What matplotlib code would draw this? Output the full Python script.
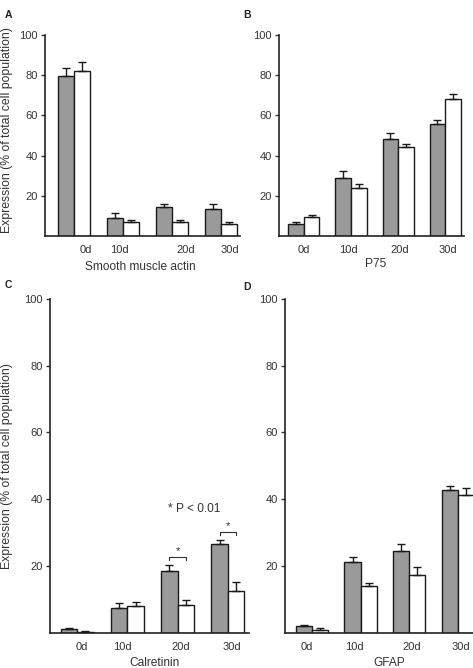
import matplotlib
matplotlib.use("Agg")
import matplotlib.pyplot as plt
import numpy as np

plt.rcParams['font.family'] = ['Liberation Sans', 'DejaVu Sans']
plt.rcParams['font.size'] = 8
plt.rcParams['text.color'] = '#333333'
plt.rcParams['axes.labelcolor'] = '#333333'
plt.rcParams['xtick.color'] = '#333333'
plt.rcParams['ytick.color'] = '#333333'

days = ["0d", "10d", "20d", "30d"]

# mean expression (% of total cell population) and upper error
sma_gray = [79.6, 8.8, 14.4, 13.6]
sma_gray_err = [3.8, 2.5, 1.6, 2.2]
sma_white = [82.0, 6.8, 7.1, 5.8]
sma_white_err = [4.6, 1.0, 0.7, 1.2]

p75_gray = [5.8, 29.0, 48.2, 55.6]
p75_gray_err = [1.2, 3.3, 3.0, 2.3]
p75_white = [9.3, 23.7, 44.1, 68.3]
p75_white_err = [1.1, 2.3, 1.7, 2.3]

calr_gray = [1.0, 7.3, 18.5, 26.5]
calr_gray_err = [0.3, 1.5, 1.9, 1.3]
calr_white = [0.3, 7.9, 8.2, 12.5]
calr_white_err = [0.1, 1.4, 1.6, 2.8]

gfap_gray = [2.0, 21.3, 24.4, 42.8]
gfap_gray_err = [0.4, 1.3, 2.1, 1.3]
gfap_white = [0.8, 14.0, 17.3, 41.4]
gfap_white_err = [0.5, 1.0, 2.4, 2.0]

W, H = 473, 668
fig = plt.figure(figsize=(W / 100, H / 100), dpi=100)


def px_axes(left, top, right, bottom):
    return fig.add_axes([left / W, 1 - bottom / H, (right - left) / W, (bottom - top) / H])


def panel(ax, gray, gray_err, white, white_err, xlim, label_shift, xlabel, xlabel_pos):
    x = np.arange(len(days))
    bw = 0.33
    ax.bar(x - bw / 2, gray, bw, color='#9a9a9a', edgecolor='#1a1a1a', linewidth=1.0, zorder=2)
    ax.bar(x + bw / 2, white, bw, color='white', edgecolor='#1a1a1a', linewidth=1.0, zorder=2)
    ax.errorbar(x - bw / 2, gray, yerr=[np.zeros(4), gray_err], fmt='none',
                ecolor='#1a1a1a', elinewidth=1.0, capsize=3, capthick=1.0, zorder=3)
    ax.errorbar(x + bw / 2, white, yerr=[np.zeros(4), white_err], fmt='none',
                ecolor='#1a1a1a', elinewidth=1.0, capsize=3, capthick=1.0, zorder=3)
    ax.set_xlim(*xlim)
    ax.set_ylim(0, 100)
    ax.set_yticks([20, 40, 60, 80, 100])
    ax.set_xticks(x + np.array(label_shift))
    ax.set_xticklabels(days)
    ax.tick_params(axis='x', length=0, pad=6.5)
    ax.tick_params(axis='y', direction='out', length=3, width=1, pad=2)
    for s in ['top', 'right']:
        ax.spines[s].set_visible(False)
    for s in ['left', 'bottom']:
        ax.spines[s].set_linewidth(1.2)
        ax.spines[s].set_color('#222222')
    ax.set_xlabel(xlabel, fontsize=8.6)
    ax.xaxis.set_label_coords(*xlabel_pos)


axA = px_axes(45, 35, 240, 236)
panel(axA, sma_gray, sma_gray_err, sma_white, sma_white_err, (-0.59, 3.39),
      [0.24, -0.08, 0.29, 0.18], "Smooth muscle actin", (0.487, -0.124))

axB = px_axes(279, 35, 464, 236)
panel(axB, p75_gray, p75_gray_err, p75_white, p75_white_err, (-0.53, 3.40),
      [0.0, -0.05, 0.04, 0.06], "P75", (0.524, -0.109))

axC = px_axes(50, 299, 249, 632.7)
panel(axC, calr_gray, calr_gray_err, calr_white, calr_white_err, (-0.54, 3.42),
      [0.09, -0.1, 0.07, 0.08], "Calretinin", (0.523, -0.072))

axD = px_axes(285, 299, 480, 632.7)
panel(axD, gfap_gray, gfap_gray_err, gfap_white, gfap_white_err, (-0.55, 3.45),
      [-0.1, -0.12, 0.05, 0.06], "GFAP", (0.533, -0.072))

ylab = "Expression (% of total cell population)"
axA.set_ylabel(ylab, fontsize=8.8)
axA.yaxis.set_label_coords(-0.164, 0.527)
axC.set_ylabel(ylab, fontsize=8.8)
axC.yaxis.set_label_coords(-0.186, 0.50)

# significance brackets on Calretinin
def bracket(ax, i, y, bw=0.33):
    x0, x1 = i - bw / 2, i + bw / 2
    ax.plot([x0, x0, x1, x1], [y - 0.9, y, y, y - 0.9], color='#333333', lw=0.8)
    ax.text(i, y + 0.2, "*", ha='center', va='bottom', fontsize=8)

bracket(axC, 2, 22.8)
bracket(axC, 3, 30.3)
axC.text(2.33, 37.1, "* P < 0.01", ha='center', va='center', fontsize=8.6)

for lab, xp, yp in [("A", 5, 15), ("B", 243, 15), ("C", 5, 285), ("D", 243, 287)]:
    fig.text(xp / W, 1 - yp / H, lab, fontweight='bold', fontsize=7.5, ha='left', va='center', color='#222222')

fig.savefig("out.png", dpi=100)
